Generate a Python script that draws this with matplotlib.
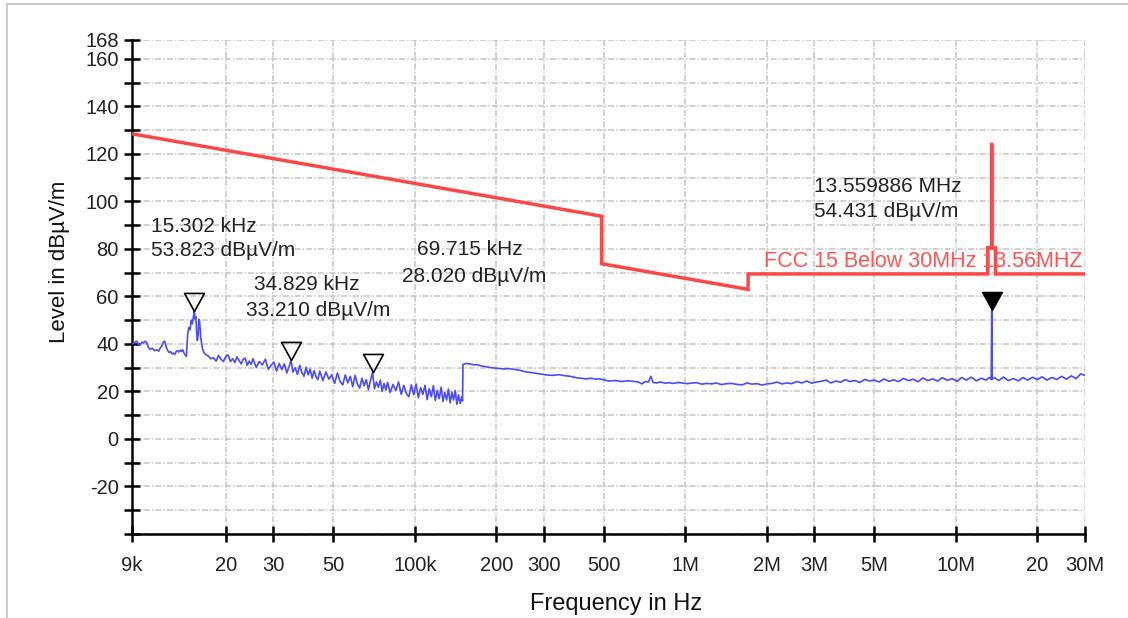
import matplotlib
matplotlib.use("Agg")
import matplotlib.pyplot as plt
from matplotlib.path import Path
from matplotlib.ticker import FixedLocator, FixedFormatter, NullLocator
from matplotlib.lines import Line2D

plt.rcParams['font.family'] = ['Liberation Sans', 'DejaVu Sans']

# ---------------- data ----------------
# measured trace, (kHz, dBuV/m)
trace_low = [(9.0, 40.0), (9.2, 40.6), (9.36, 41.2), (9.5, 40.0), (9.63, 39.6), (9.8, 40.8),
             (9.91, 40.4), (10.05, 41.2), (10.2, 40.6), (10.35, 38.6), (10.5, 37.8), (10.7, 38.2),
             (10.9, 37.2), (11.1, 37.6), (11.3, 37.0), (11.45, 38.4), (11.6, 39.2), (11.75, 40.8),
             (11.9, 41.2), (12.05, 38.6), (12.2, 37.2), (12.35, 36.4), (12.5, 36.8), (12.65, 35.8),
             (12.8, 36.2), (12.95, 35.6), (13.1, 36.8), (13.25, 37.2), (13.4, 36.6), (13.55, 37.4),
             (13.7, 36.8), (13.85, 37.6), (14.0, 36.2), (14.15, 35.4), (14.3, 34.8)]
trace_peak = [(14.45, 44.0), (14.6, 47.0), (14.75, 46.0), (14.9, 50.0), (15.05, 48.5), (15.2, 52.0),
              (15.302, 53.8), (15.4, 50.5), (15.5, 51.5), (15.6, 45.0), (15.7, 41.5), (15.8, 44.0),
              (15.9, 50.5), (16.0, 49.5), (16.15, 43.0), (16.3, 39.5), (16.45, 37.5), (16.6, 36.4),
              (16.8, 35.6)]
trace_noise1 = [(17.2, 35.0), (17.6, 33.8), (18.0, 34.2), (18.4, 32.8), (18.8, 35.2), (19.2, 33.6),
                (19.6, 32.6), (20.0, 34.8), (20.4, 35.4), (20.8, 32.6), (21.2, 33.8), (21.6, 32.2),
                (22.0, 34.6), (22.4, 33.0), (22.8, 31.6), (23.2, 33.6), (23.6, 34.0), (24.0, 31.0),
                (24.4, 32.8), (24.8, 31.4)]
trace_noise2 = [(25.2, 33.8), (25.9, 30.2), (26.6, 32.6), (27.3, 31.2), (28.0, 33.6), (28.7, 29.4),
                (29.4, 31.0), (30.1, 32.4), (30.8, 28.6), (31.5, 31.8), (32.2, 29.2), (32.9, 31.6),
                (33.6, 27.8), (34.3, 30.6), (34.83, 33.2), (35.4, 28.2), (36.1, 30.0), (36.8, 27.2),
                (37.5, 31.0), (38.2, 28.0), (38.9, 26.4), (39.6, 30.2), (40.3, 27.0), (41.0, 29.4),
                (41.7, 25.6), (42.4, 28.8), (43.1, 26.2), (43.8, 25.0), (44.5, 28.6)]
trace_noise3 = [(45.7, 24.6), (46.9, 28.2), (48.1, 25.2), (49.3, 27.0), (50.5, 23.4), (51.7, 27.8),
                (52.9, 24.2), (54.1, 22.8), (55.3, 27.0), (56.5, 23.6), (57.7, 26.4), (58.9, 22.0),
                (60.1, 26.8), (61.3, 23.2), (62.5, 21.4), (63.7, 25.6), (64.9, 22.4), (66.1, 25.0),
                (67.3, 20.8), (68.5, 24.6), (69.7, 28.0), (70.9, 21.2), (72.1, 24.0), (73.3, 21.8),
                (74.5, 24.8), (75.7, 20.0), (76.9, 23.4), (78.1, 20.6), (79.3, 23.8)]
trace_noise4 = [(81, 19.6), (83, 23.0), (85, 20.4), (87, 24.0), (89, 18.8), (91, 22.6), (93, 19.2),
                (95, 17.8), (97, 22.8), (99, 18.6), (101, 23.2), (103, 17.4), (105, 21.6), (107, 18.8),
                (109, 22.6), (111, 16.6), (113, 21.2), (115, 17.8), (117, 22.4), (119, 16.2),
                (121, 20.4), (123, 17.0), (125, 21.8), (127, 15.8), (129, 19.6), (131, 16.4),
                (133, 21.0), (135, 15.2), (137, 19.8), (139, 16.4), (141, 20.4), (143, 14.6),
                (145, 18.6), (147, 15.0), (149, 17.8), (150, 16.0)]
trace_bandb = [(150.6, 31.4), (155, 31.8), (160, 31.6), (165, 31.2), (170, 31.3), (177, 30.7),
               (184, 30.4), (192, 30.0), (200, 29.8), (212, 29.5), (222, 29.6), (233, 29.3),
               (245, 28.9), (256, 28.3), (268, 28.0), (282, 27.6), (296, 27.2), (310, 26.9),
               (325, 26.8), (340, 27.1), (355, 26.7), (375, 26.4), (395, 25.8), (415, 25.5),
               (431, 25.3), (448, 25.6), (465, 25.2), (480, 25.3), (497, 25.0)]
# (MHz, dBuV/m)
trace_high_mhz = [(0.52, 24.4), (0.55, 24.6), (0.58, 24.2), (0.61, 24.5), (0.64, 24.3), (0.67, 24.0),
                  (0.69, 23.2), (0.71, 24.2), (0.73, 24.0), (0.745, 26.4), (0.76, 23.8), (0.78, 23.6),
                  (0.81, 24.0), (0.84, 23.5), (0.87, 23.7), (0.90, 23.4), (0.94, 23.8), (0.98, 23.5),
                  (1.02, 23.3), (1.06, 23.6), (1.10, 23.7), (1.15, 23.1), (1.20, 23.4), (1.25, 23.2),
                  (1.30, 23.6), (1.36, 22.9), (1.42, 23.3), (1.48, 23.4), (1.55, 23.0), (1.62, 22.8),
                  (1.69, 23.6), (1.76, 23.1), (1.84, 23.3), (1.92, 22.7), (2.00, 23.2), (2.09, 23.4),
                  (2.18, 24.0), (2.27, 23.2), (2.37, 23.6), (2.47, 23.3), (2.58, 24.2), (2.69, 23.6),
                  (2.81, 24.4), (2.93, 23.5), (3.05, 24.0), (3.18, 24.3), (3.31, 24.8), (3.45, 23.6),
                  (3.60, 24.4), (3.75, 23.9), (3.90, 25.0), (4.06, 24.2), (4.23, 24.6), (4.41, 23.8),
                  (4.60, 25.1), (4.79, 24.4), (4.99, 24.8), (5.20, 24.0), (5.42, 25.3), (5.65, 24.3),
                  (5.89, 24.9), (6.14, 24.2), (6.40, 25.5), (6.67, 24.6), (6.95, 25.2), (7.24, 24.1),
                  (7.55, 25.7), (7.87, 24.6), (8.20, 25.3), (8.55, 24.4), (8.91, 25.8), (9.29, 24.7),
                  (9.68, 25.4), (10.1, 24.3), (10.5, 25.9), (10.9, 24.8), (11.4, 26.0), (11.9, 24.5),
                  (12.4, 25.6), (12.9, 24.8), (13.3, 25.9), (13.50, 25.0), (13.56, 54.4), (13.62, 25.2),
                  (13.9, 25.8), (14.4, 24.6), (15.0, 26.1), (15.6, 24.6), (16.3, 25.4), (17.0, 24.5),
                  (17.7, 25.9), (18.4, 24.8), (19.2, 26.0), (20.0, 25.0), (20.8, 26.2), (21.7, 24.8),
                  (22.6, 25.9), (23.6, 25.1), (24.6, 26.4), (25.6, 25.2), (26.7, 26.6), (27.8, 25.4),
                  (28.9, 27.4), (30.0, 26.8)]

# FCC 15 limit line (kHz, dBuV/m)
limit_khz = [9, 490, 490, 1705, 1705, 13110, 13110, 13553, 13553, 13567, 13567, 14010, 14010, 30000]
limit_db = [128.5, 93.8, 73.8, 63.0, 69.5, 69.5, 80.5, 80.5, 124.0, 124.0, 80.5, 80.5, 69.5, 69.5]

# markers
marker_open_khz = [15.302, 34.829, 69.715]
marker_open_db = [53.823, 33.210, 28.020]
marker_fill_khz = [13559.886]
marker_fill_db = [54.431]

x_ticks = [9e3, 20e3, 30e3, 50e3, 100e3, 200e3, 300e3, 500e3, 1e6, 2e6, 3e6, 5e6, 10e6, 20e6, 30e6]
x_labels = ['9k', '20', '30', '50', '100k', '200', '300', '500', '1M', '2M', '3M', '5M', '10M', '20', '30M']
y_ticks = [-40, -30, -20, -10, 0, 10, 20, 30, 40, 50, 60, 70, 80, 90, 100, 110, 120, 130, 140, 150, 160, 168]
y_labels = ['', '', '-20', '', '0', '', '20', '', '40', '', '60', '', '80', '', '100', '', '120', '', '140', '', '160', '168']

# ---------------- figure ----------------
W, H = 1128, 618
fig = plt.figure(figsize=(W / 100, H / 100), dpi=100)
fig.patch.set_facecolor('white')

def fx(x):
    return x / W

def fy(y):
    return 1 - y / H

ax = fig.add_axes([fx(132), fy(534), (1085 - 132) / W, (534 - 40) / H])
ax.set_xscale('log')
ax.set_xlim(9e3, 30e6)
ax.set_ylim(-40, 168)

trace = trace_low + trace_peak + trace_noise1 + trace_noise2 + trace_noise3 + trace_noise4 + trace_bandb
tf = [p[0] * 1e3 for p in trace] + [p[0] * 1e6 for p in trace_high_mhz]
tv = [p[1] for p in trace] + [p[1] for p in trace_high_mhz]
ax.plot(tf, tv, color='#4b4bff', lw=1.2, zorder=3)

ax.plot([f * 1e3 for f in limit_khz], limit_db, color='#ff4747', lw=2.5, zorder=4,
        solid_joinstyle='miter')

tri = Path([(-0.55, 1.0), (0.55, 1.0), (0.0, 0.0), (-0.55, 1.0)],
           [Path.MOVETO, Path.LINETO, Path.LINETO, Path.CLOSEPOLY])
ax.plot([f * 1e3 for f in marker_open_khz], marker_open_db, linestyle='none', marker=tri,
        markersize=26, markerfacecolor='none', markeredgecolor='black', markeredgewidth=1.2, zorder=5)
ax.plot([f * 1e3 for f in marker_fill_khz], marker_fill_db, linestyle='none', marker=tri,
        markersize=26, markerfacecolor='black', markeredgecolor='black', markeredgewidth=1.0, zorder=5)

ax.xaxis.set_major_locator(FixedLocator(x_ticks))
ax.xaxis.set_major_formatter(FixedFormatter(x_labels))
ax.xaxis.set_minor_locator(NullLocator())
ax.yaxis.set_major_locator(FixedLocator(y_ticks))
ax.yaxis.set_major_formatter(FixedFormatter(y_labels))
ax.yaxis.set_minor_locator(NullLocator())

for s in ['top', 'right']:
    ax.spines[s].set_visible(False)
for s in ['left', 'bottom']:
    ax.spines[s].set_linewidth(1.8)
    ax.spines[s].set_color('black')

ax.tick_params(axis='both', which='major', direction='inout', length=11, width=1.8,
               color='black', labelsize=14.5, labelcolor='#222222')
ax.tick_params(axis='y', pad=4)
ax.tick_params(axis='x', pad=10)

ax.grid(True, which='major', color='#c4c4c4', linewidth=1.1, linestyle=(0, (4, 1.3, 1, 1.3)))
ax.set_axisbelow(True)

# axis titles
fig.text(fx(616), fy(604), 'Frequency in Hz', ha='center', va='center', fontsize=17, color='#111111')
fig.text(fx(59), fy(262), 'Level in dB\u00b5V/m', ha='center', va='center', rotation=90,
         fontsize=16, color='#111111')

# marker texts
txt = dict(ha='left', va='baseline', fontsize=15, color='#222222')
fig.text(fx(151), fy(231.5), '15.302 kHz', **txt)
fig.text(fx(151), fy(256), '53.823 dB\u00b5V/m', **txt)
fig.text(fx(254), fy(290), '34.829 kHz', **txt)
fig.text(fx(246), fy(315.5), '33.210 dB\u00b5V/m', **txt)
fig.text(fx(417), fy(255), '69.715 kHz', **txt)
fig.text(fx(402), fy(281.5), '28.020 dB\u00b5V/m', **txt)
fig.text(fx(814), fy(191.5), '13.559886 MHz', **txt)
fig.text(fx(814), fy(217), '54.431 dB\u00b5V/m', **txt)

fig.text(fx(1082), fy(267), 'FCC 15 Below 30MHz 13.56MHZ', ha='right', va='baseline',
         fontsize=15.5, color='#ff5555', zorder=6)

# window frame
fig.add_artist(Line2D([fx(7), 1.0], [fy(4), fy(4)], transform=fig.transFigure, color='#cccccc', lw=1.5))
fig.add_artist(Line2D([fx(7), fx(7)], [0.0, fy(4)], transform=fig.transFigure, color='#cccccc', lw=1.5))

fig.savefig('out.png', dpi=100)
